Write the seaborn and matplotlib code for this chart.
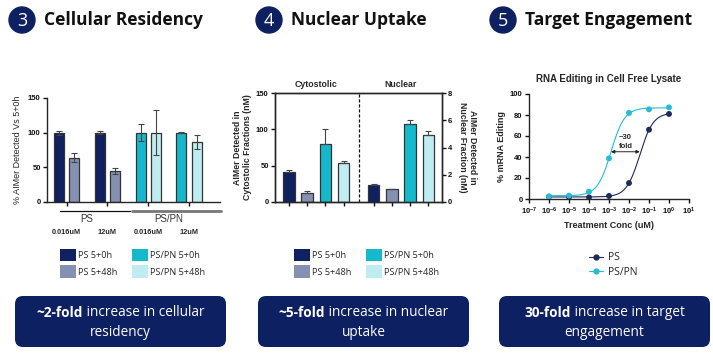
import numpy as np
import pandas as pd
import matplotlib
matplotlib.use("Agg")
import matplotlib.pyplot as plt
import seaborn as sns
from matplotlib.patches import FancyBboxPatch, Circle, Patch
from matplotlib.lines import Line2D

# ---- data -------------------------------------------------------------
# 3. cellular residency (% of 5+0h)
res_series = ["PS 5+0h", "PS 5+48h", "PS 5+0h", "PS 5+48h",
              "PS/PN 5+0h", "PS/PN 5+48h", "PS/PN 5+0h", "PS/PN 5+48h"]
res_values = [100, 64, 100, 45, 100, 100, 100, 87]
res_errors = [3, 6, 2, 4, 12, 32, 1, 10]
res_groups = ["PS", "PS/PN"]
res_conc = ["0.016uM", "12uM", "0.016uM", "12uM"]

# 4. nuclear uptake (nM)
upt_series = ["PS 5+0h", "PS 5+48h", "PS/PN 5+0h", "PS/PN 5+48h"]
cyto_values = [41, 13, 80, 53]
cyto_errors = [3, 2, 20, 3]
nuc_values = [1.24, 0.94, 5.74, 4.9]
nuc_errors = [0.07, 0.05, 0.3, 0.3]

# 5. target engagement
conc_um = [1e-6, 1e-5, 1e-4, 1e-3, 1e-2, 1e-1, 1e0]
ps_editing = [2.2, 1.9, 1.6, 2.9, 15.2, 66, 81]
pspn_editing = [2.5, 3.2, 7, 38.7, 82, 85.4, 87.3]

palette = {"PS 5+0h": "#0f2160", "PS 5+48h": "#8591b3",
           "PS/PN 5+0h": "#16b9cc", "PS/PN 5+48h": "#bfecf1"}
line_colors = {"PS": "#1d2a5c", "PS/PN": "#27bcd3"}
NAVY = "#0d2162"

W, H = 713, 363
sns.set_style("ticks")
plt.rcParams["font.family"] = ["Liberation Sans", "DejaVu Sans"]
plt.rcParams["axes.linewidth"] = 1.0
plt.rcParams["xtick.major.width"] = 1.0
plt.rcParams["ytick.major.width"] = 1.0
plt.rcParams["xtick.major.size"] = 3
plt.rcParams["ytick.major.size"] = 3

fig = plt.figure(figsize=(W / 100, H / 100), dpi=100)


def rect(x0, y0, x1, y1):
    return [x0 / W, 1 - y1 / H, (x1 - x0) / W, (y1 - y0) / H]


# overlay in pixel coordinates for headings and boxes
ov = fig.add_axes([0, 0, 1, 1], zorder=-1)
ov.set_xlim(0, W)
ov.set_ylim(H, 0)
ov.axis("off")

UI = "Open Sans"


def tick_style(ax):
    for lab in ax.get_yticklabels() + ax.get_xticklabels():
        lab.set_fontweight("bold")
        lab.set_fontsize(5.5)
    ax.tick_params(colors="#111111", pad=1.5)


# ---- panel 3: cellular residency --------------------------------------
ax1 = fig.add_axes(rect(47, 98, 220, 202))
pos1 = np.repeat(np.arange(4), 2) + np.tile([-0.185, 0.185], 4)
df1 = pd.DataFrame({"pos": pos1, "val": res_values, "series": res_series})
sns.barplot(data=df1, x="pos", y="val", hue="series", palette=palette,
            native_scale=True, width=0.66, errorbar=None, legend=False,
            saturation=1, edgecolor="#333333", linewidth=0.9, ax=ax1)
ax1.errorbar(pos1, res_values, yerr=res_errors, fmt="none", ecolor="#444444",
             elinewidth=0.8, capsize=2, capthick=0.8, zorder=4)
ax1.set_xlim(-0.48, 3.76)
ax1.set_ylim(0, 150)
ax1.set_yticks([0, 50, 100, 150])
ax1.set_xticks(np.arange(4))
ax1.set_xticklabels([])
ax1.set_xlabel("")
ax1.set_ylabel("% AIMer Detected Vs 5+0h", fontsize=6.5, labelpad=4)
sns.despine(ax=ax1)
tick_style(ax1)

# group lines & labels under the axis
trans1 = ax1.get_xaxis_transform()
ax1.plot([-0.15, 1.55], [-0.09, -0.09], color="#111111", lw=0.9,
         transform=trans1, clip_on=False)
ax1.plot([1.6, 3.78], [-0.09, -0.09], color="#777777", lw=2.0,
         transform=trans1, clip_on=False)
for i, g in enumerate(res_groups):
    ax1.text(0.5 + 2 * i, -0.165, g, transform=trans1, ha="center", va="center",
             fontsize=7, color="#333333")
for i, c in enumerate(res_conc):
    ax1.text(i, -0.29, c, transform=trans1, ha="center", va="center",
             fontsize=5.3, fontweight="bold")

# ---- panel 4: nuclear uptake ------------------------------------------
ax2 = fig.add_axes(rect(275, 93, 442, 202))
ax2b = ax2.twinx()
pos_c = np.arange(4)
pos_n = np.arange(4) + 4.65
df_c = pd.DataFrame({"pos": pos_c, "val": cyto_values, "series": upt_series})
df_n = pd.DataFrame({"pos": pos_n, "val": nuc_values, "series": upt_series})
sns.barplot(data=df_c, x="pos", y="val", hue="series", palette=palette,
            native_scale=True, width=0.63, errorbar=None, legend=False,
            saturation=1, edgecolor="#333333", linewidth=0.9, ax=ax2)
sns.barplot(data=df_n, x="pos", y="val", hue="series", palette=palette,
            native_scale=True, width=0.63, errorbar=None, legend=False,
            saturation=1, edgecolor="#333333", linewidth=0.9, ax=ax2b)
ax2.errorbar(pos_c, cyto_values, yerr=[np.zeros(4), cyto_errors], fmt="none",
             ecolor="#444444", elinewidth=0.8, capsize=2, capthick=0.8, zorder=4)
ax2b.errorbar(pos_n, nuc_values, yerr=[np.zeros(4), nuc_errors], fmt="none",
              ecolor="#444444", elinewidth=0.8, capsize=2, capthick=0.8, zorder=4)
ax2.set_xlim(-0.77, 8.4)
ax2b.set_xlim(-0.77, 8.4)
ax2.set_ylim(0, 150)
ax2b.set_ylim(0, 8)
ax2.set_yticks([0, 50, 100, 150])
ax2b.set_yticks([0, 2, 4, 6, 8])
ax2.set_xticks(np.concatenate([pos_c, pos_n]))
ax2.set_xticklabels([])
ax2.set_xlabel("")
ax2b.set_xlabel("")
ax2.axvline(3.82, color="#111111", lw=0.9, ls=(0, (2.5, 1.5)))
ax2.set_ylabel("AIMer Detected in\nCytostolic Fractions (nM)", fontsize=6.3,
               fontweight="bold", labelpad=3, linespacing=1.1)
ax2b.set_ylabel("AIMer Detected in\nNuclear Fraction (nM)", fontsize=6.3,
                fontweight="bold", labelpad=4, rotation=270, va="bottom",
                linespacing=1.1)
trans2 = ax2.get_xaxis_transform()
ax2.text(1.5, 1.08, "Cytostolic", transform=trans2, ha="center", va="center",
         fontsize=6.3, fontweight="bold")
ax2.text(6.15, 1.08, "Nuclear", transform=trans2, ha="center", va="center",
         fontsize=6.3, fontweight="bold")
tick_style(ax2)
tick_style(ax2b)

# ---- panel 5: target engagement ---------------------------------------
ax3 = fig.add_axes(rect(529, 94, 689, 199))
logx = np.log10(conc_um)


def hill_fit(y):
    # least-squares 4PL fit: grid over EC50/slope, linear solve for bottom/top
    y = np.asarray(y, float)
    best = None
    for h in np.arange(0.4, 3.0, 0.02):
        for ec in np.arange(-5, 0.5, 0.01):
            f = 1.0 / (1.0 + 10 ** ((ec - logx) * h))
            A = np.column_stack([1 - f, f])
            coef, *_ = np.linalg.lstsq(A, y, rcond=None)
            err = np.sum((A @ coef - y) ** 2)
            if best is None or err < best[0]:
                best = (err, h, ec, coef)
    return best[1:]


xs = np.logspace(-6, 0, 200)
ec_fit = {}
for name, vals in [("PS", ps_editing), ("PS/PN", pspn_editing)]:
    h, ec, (bot, top) = hill_fit(vals)
    ec_fit[name] = ec
    ys = bot + (top - bot) / (1 + 10 ** ((ec - np.log10(xs)) * h))
    ax3.plot(xs, ys, color=line_colors[name], lw=0.8, zorder=2)

df3 = pd.DataFrame({"conc": conc_um * 2,
                    "edit": ps_editing + pspn_editing,
                    "form": ["PS"] * 7 + ["PS/PN"] * 7})
sns.scatterplot(data=df3, x="conc", y="edit", hue="form", palette=line_colors,
                s=18, edgecolor="none", legend=False, zorder=3, ax=ax3)
ax3.set_xscale("log")
ax3.set_xlim(1e-7, 1e1)
ax3.set_ylim(0, 100)
ax3.set_xticks([10.0 ** k for k in range(-7, 2)])
ax3.set_yticks([0, 20, 40, 60, 80, 100])
ax3.tick_params(axis="x", which="minor", length=1.8, width=0.6)
ax3.set_xlabel("Treatment Conc (uM)", fontsize=6.5, fontweight="bold", labelpad=3)
ax3.set_ylabel("% mRNA Editing", fontsize=6.5, fontweight="bold", labelpad=3)
ax3.set_title("RNA Editing in Cell Free Lysate", fontsize=7, fontweight="bold",
              pad=9)
sns.despine(ax=ax3)
tick_style(ax3)
ax3.annotate("", xy=(10 ** ec_fit["PS"], 45), xytext=(10 ** ec_fit["PS/PN"], 45),
             arrowprops=dict(arrowstyle="<|-|>", color="#222222", lw=0.7,
                             mutation_scale=5, shrinkA=0, shrinkB=0))
xm = 10 ** ((ec_fit["PS"] + ec_fit["PS/PN"]) / 2)
ax3.text(xm, 59, "~30", ha="center", va="center", fontsize=5.5, fontweight="bold")
ax3.text(xm, 50, "fold", ha="center", va="center", fontsize=5.5, fontweight="bold")

# ---- legends ----------------------------------------------------------
bar_handles = [Patch(facecolor=palette[s], edgecolor="none") for s in upt_series]
for xa in (56, 290):
    fig.legend(bar_handles, upt_series, loc="upper left",
               bbox_to_anchor=(xa / W, 1 - 245 / H), ncol=2, frameon=False,
               prop={"family": UI, "size": 6.6}, handlelength=1.75,
               handleheight=1.75, handletextpad=0.3, columnspacing=1.5,
               labelspacing=0.45, borderaxespad=0)
line_handles = [Line2D([], [], color=line_colors[n], marker="o", ms=3.5, lw=0.8)
                for n in ("PS", "PS/PN")]
fig.legend(line_handles, ["PS", "PS/PN"], loc="upper left",
           bbox_to_anchor=(585 / W, 1 - 248 / H), frameon=False,
           prop={"family": UI, "size": 7.5}, handlelength=1.3,
           handletextpad=0.5, labelspacing=0.35, borderaxespad=0)

# ---- headings ---------------------------------------------------------
for num, title, cx in [("3", "Cellular Residency", 22),
                       ("4", "Nuclear Uptake", 269),
                       ("5", "Target Engagement", 503)]:
    ov.add_patch(Circle((cx, 20), 13, color=NAVY))
    ov.text(cx, 21, num, ha="center", va="center", color="white",
            fontsize=13, family=UI)
    ov.text(cx + 22, 20, title, ha="left", va="center", fontsize=12.5,
            fontweight="bold", family=UI, color="#111111")

# ---- summary boxes ----------------------------------------------------
fig.canvas.draw()
renderer = fig.canvas.get_renderer()
boxes = [(15, 226, "~2-fold", " increase in cellular", "residency"),
         (258, 469, "~5-fold", " increase in nuclear", "uptake"),
         (499, 710, "30-fold", " increase in target", "engagement")]
for x0, x1, bold, rest, line2 in boxes:
    ov.add_patch(FancyBboxPatch((x0, 296), x1 - x0, 51,
                                boxstyle="round,pad=0,rounding_size=8",
                                facecolor=NAVY, edgecolor="none"))
    cx = (x0 + x1) / 2
    tb = ov.text(0, 313, bold, fontsize=9.8, fontweight="bold", family=UI,
                 color="white", va="center", ha="left")
    tr = ov.text(0, 313, rest, fontsize=9.8, family=UI, color="white",
                 va="center", ha="left")
    wb = tb.get_window_extent(renderer).width
    wr = tr.get_window_extent(renderer).width
    start = cx - (wb + wr) / 2
    tb.set_x(start)
    tr.set_x(start + wb)
    ov.text(cx, 332, line2, fontsize=9.8, family=UI, color="white",
            va="center", ha="center")

fig.savefig("out.png", dpi=100)
